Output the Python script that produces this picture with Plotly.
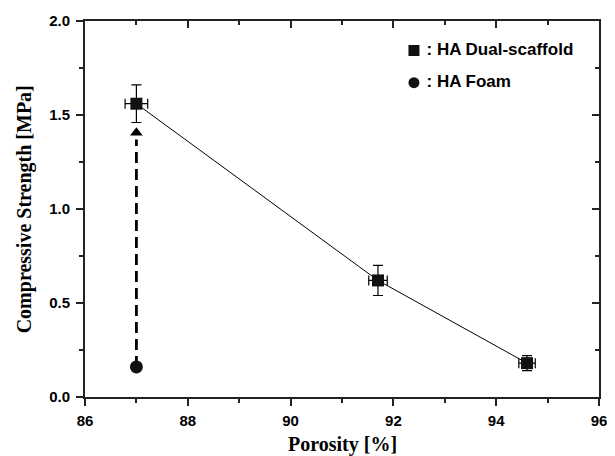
import plotly.graph_objects as go

# Data
porosity = [87.0, 91.7, 94.6]
strength = [1.56, 0.62, 0.18]
strength_err = [0.10, 0.08, 0.04]
porosity_err = [0.22, 0.18, 0.16]

foam_porosity = [87.0]
foam_strength = [0.16]

arrow_x = [87.0, 87.0]
arrow_y = [0.16, 1.37]
arrow_tip_y = [1.405]

legend_x = [92.40, 92.40]
legend_y = [1.843, 1.672]
legend_labels = [" : HA Dual-scaffold", " : HA Foam"]
legend_symbols = ["square", "circle"]

xticks = [86, 88, 90, 92, 94, 96]
yticks = [0.0, 0.5, 1.0, 1.5, 2.0]

tickfont = dict(family="Liberation Sans, Arial", size=15, color="black", weight="bold")
titlefont = dict(family="Liberation Serif, Times New Roman", size=20, color="black", weight="bold")

fig = go.Figure()

# dashed arrow line
fig.add_trace(go.Scatter(x=arrow_x, y=arrow_y, mode="lines",
                         line=dict(color="black", width=2.8, dash="11px,6px"),
                         showlegend=False, hoverinfo="skip"))
fig.add_trace(go.Scatter(x=[arrow_x[0]], y=arrow_tip_y, mode="markers",
                         marker=dict(symbol="triangle-up", size=11, color="black"),
                         showlegend=False, hoverinfo="skip"))

# dual-scaffold
fig.add_trace(go.Scatter(
    x=porosity, y=strength, mode="lines+markers",
    line=dict(color="black", width=1),
    marker=dict(symbol="square", size=12, color="#111"),
    error_y=dict(type="data", array=strength_err, color="black", thickness=1.2, width=5),
    error_x=dict(type="data", array=porosity_err, color="black", thickness=1.2, width=5),
    showlegend=False))

# foam
fig.add_trace(go.Scatter(x=foam_porosity, y=foam_strength, mode="markers",
                         marker=dict(symbol="circle", size=13, color="#111"),
                         showlegend=False))

# legend imitation
fig.add_trace(go.Scatter(x=legend_x, y=legend_y, mode="markers+text",
                         marker=dict(symbol=legend_symbols, size=11, color="#111"),
                         text=legend_labels, textposition="middle right",
                         textfont=dict(family="Liberation Sans, Arial", size=17, color="black",
                                       weight="bold"),
                         showlegend=False, hoverinfo="skip"))

# invisible trace for mirror axes
fig.add_trace(go.Scatter(x=[86], y=[0], xaxis="x2", yaxis="y2", mode="markers",
                         marker=dict(opacity=0), showlegend=False, hoverinfo="skip"))

axis_common = dict(showgrid=False, zeroline=False, showline=True, linecolor="#222",
                   linewidth=2, tickcolor="#222", ticklen=7, tickwidth=1.5, automargin=False)

fig.update_layout(
    width=615, height=456,
    margin=dict(l=77, r=24, t=13, b=67),
    plot_bgcolor="white", paper_bgcolor="white",
    xaxis=dict(range=[86, 96], tickvals=xticks, ticks="outside",
               tickfont=tickfont, ticklabelstandoff=2,
               minor=dict(dtick=1, ticks="outside", ticklen=4, tickcolor="#222"),
               **axis_common),
    yaxis=dict(range=[0, 2.0], tickvals=yticks, tickformat=".1f",
               ticks="outside", tickfont=tickfont, ticklabelstandoff=3,
               minor=dict(dtick=0.25, ticks="outside", ticklen=4, tickcolor="#222"),
               **axis_common),
    xaxis2=dict(range=[86, 96], overlaying="x", side="top", anchor="y2", tickvals=xticks,
                showticklabels=False, ticks="inside",
                minor=dict(dtick=1, ticks="inside", ticklen=4, tickcolor="#222"),
                **axis_common),
    yaxis2=dict(range=[0, 2.0], overlaying="y", side="right", anchor="x2", tickvals=yticks,
                showticklabels=False, ticks="inside",
                minor=dict(dtick=0.25, ticks="inside", ticklen=4, tickcolor="#222"),
                **axis_common),
    annotations=[
        dict(text="Porosity [%]", xref="paper", yref="paper", x=0.5, y=-0.125,
             xanchor="center", yanchor="middle", showarrow=False, font=titlefont),
        dict(text="Compressive Strength [MPa]", xref="paper", yref="paper", x=-0.118, y=0.5,
             xanchor="center", yanchor="middle", textangle=-90, showarrow=False, font=titlefont),
    ],
)

fig.write_html("out.html")
